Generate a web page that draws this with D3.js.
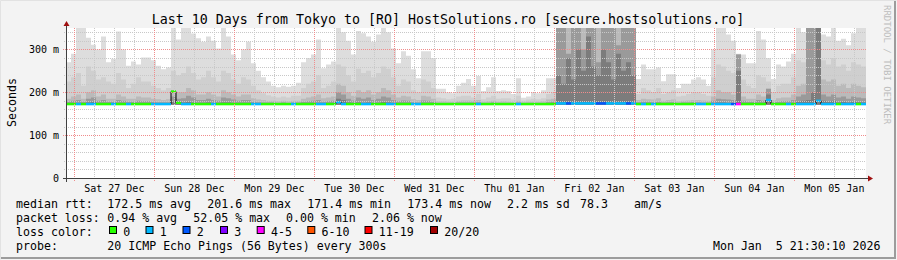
<!DOCTYPE html>
<html><head><meta charset="utf-8">
<script src="https://cdn.jsdelivr.net/npm/d3@7"></script>
<style>
html,body{margin:0;padding:0;background:#f3f3f3;}
svg{display:block;}
svg text{font-family:"DejaVu Sans Mono",monospace;}
</style></head><body>
<svg id="chart" width="897" height="260"></svg>
<script>
// ---- data ----
var endTime = Date.UTC(2026, 0, 5, 21, 30, 10);
var spanSec = 10 * 86400;
var stepSec = 5400; // one smoke column = 1.5 h

// top of each smoke band, ms (outermost band first)
var smokeMax = [
  270,290,350,350,327,311,300,330,270,278,342,300,262,272,265,281,
  281,275,262,254,258,350,323,350,350,337,326,318,330,320,302,350,
  330,288,275,300,318,268,250,235,225,215,212,215,213,215,222,270,
  280,288,323,256,265,272,350,340,320,288,343,338,330,318,335,350,
  340,302,268,296,285,254,233,296,296,280,208,208,200,198,215,222,
  231,215,238,203,212,235,203,205,203,196,233,187,190,200,198,205,
  233,233,360,360,360,360,360,360,360,360,360,360,360,360,360,360,
  360,360,231,265,254,254,258,226,242,242,210,220,220,230,235,230,
  215,300,350,350,335,320,290,288,268,268,343,323,280,231,265,260,
  272,290,350,340,350,350,350,335,330,350,320,325,310,338,350,350
];
var smokeL2 = [
  225,235,245,215,260,250,230,235,225,220,245,230,210,220,235,225,
  225,215,210,205,210,250,240,245,260,245,230,235,250,235,225,250,
  245,230,220,235,230,215,205,198,193,190,188,190,188,192,192,210,
  220,225,240,210,215,225,265,260,240,225,255,245,250,235,245,260,
  255,235,215,230,225,205,200,230,225,210,188,186,184,185,190,192,
  192,188,196,184,188,192,185,186,186,183,192,181,183,185,184,186,
  196,200,360,360,360,360,360,360,360,360,360,360,360,360,360,360,
  360,360,196,210,205,200,210,196,200,205,190,192,196,200,200,196,
  192,235,265,260,250,245,288,230,215,210,240,235,225,200,215,220,
  220,235,275,270,350,350,350,275,265,280,260,265,250,270,265,260
];
var smokeL3 = [
  185,190,195,185,200,205,190,195,185,185,195,190,185,185,190,188,
  188,185,184,182,184,205,200,200,210,205,195,195,200,195,190,205,
  200,195,190,195,195,186,183,182,180,180,179,180,179,180,180,185,
  188,190,195,186,188,190,220,215,200,192,205,200,205,195,200,210,
  205,195,188,192,190,184,182,192,190,185,179,179,178,178,180,181,
  181,180,182,178,179,180,178,179,178,177,180,177,178,178,178,179,
  183,185,360,360,360,360,360,360,360,360,360,360,360,360,360,360,
  360,360,182,185,184,183,186,180,182,183,179,180,181,182,182,181,
  180,190,205,200,200,195,288,190,185,185,195,190,208,182,186,188,
  188,195,215,220,350,350,350,230,225,230,215,220,210,220,215,212
];
var smokeL4 = [
  178,180,182,178,185,188,180,182,178,178,182,180,178,178,180,179,
  179,178,177,177,177,190,185,186,192,188,182,182,185,182,180,188,
  186,183,180,182,182,178,177,176,176,176,175,176,175,176,176,178,
  179,180,182,178,179,180,200,195,185,181,188,185,188,182,185,190,
  188,182,179,181,180,177,176,181,180,178,175,175,175,175,176,176,
  176,176,177,175,175,176,175,175,175,175,176,175,175,175,175,175,
  177,178,360,360,290,360,360,300,360,360,270,360,360,360,310,360,
  360,360,177,178,178,177,178,176,177,177,175,176,176,177,177,176,
  176,180,185,184,183,182,288,180,178,178,182,180,208,177,178,179,
  179,182,190,195,350,350,350,195,190,195,188,190,185,190,188,186
];
var smokeL5 = [
  174,174,175,174,176,178,175,175,174,174,175,174,174,174,175,174,
  174,174,174,174,174,178,176,176,178,176,175,175,176,175,174,176,
  176,175,174,175,175,174,174,174,174,174,174,174,174,174,174,174,
  174,174,175,174,174,174,185,182,176,174,176,175,176,175,175,177,
  176,175,174,174,174,174,174,174,174,174,174,174,174,174,174,174,
  174,174,174,174,174,174,174,174,174,174,174,174,174,174,174,174,
  174,174,240,220,280,230,300,250,330,260,240,300,270,230,290,250,
  270,240,174,174,174,174,174,174,174,174,174,174,174,174,174,174,
  174,174,176,176,175,175,250,174,174,174,175,174,195,174,174,174,
  174,175,178,180,182,200,350,180,178,180,176,178,176,178,177,176
];
var median = [
  172.5,172.5,172.5,172.5,172.5,172.5,172.5,172.5,172.5,172.5,172.5,172.5,172.5,172.5,172.5,172.5,
  172.5,172.5,172.5,172.5,172.5,201.6,175.5,172.5,172.5,172.5,172.5,172.5,172.5,172.5,172.5,172.5,
  172.5,172.5,172.5,172.5,172.5,172.5,172.5,172.5,172.5,172.5,172.5,172.5,172.5,172.5,172.5,172.5,
  172.5,172.5,172.5,172.5,172.5,172.5,177.0,172.5,172.5,172.5,172.5,172.5,172.5,172.5,172.5,172.5,
  172.5,172.5,172.5,172.5,172.5,172.5,172.5,172.5,172.5,172.5,172.5,172.5,172.5,172.5,172.5,172.5,
  172.5,172.5,172.5,172.5,172.5,172.5,172.5,172.5,172.5,172.5,172.5,172.5,172.5,172.5,172.5,172.5,
  172.5,172.5,174.0,174.0,174.0,174.0,174.0,174.0,174.0,174.0,174.0,174.0,174.0,174.0,174.0,174.0,
  174.0,174.0,172.5,172.5,172.5,172.5,172.5,172.5,172.5,172.5,172.5,172.5,172.5,172.5,172.5,172.5,
  172.5,172.5,172.5,172.5,172.5,172.5,172.5,172.5,172.5,172.5,172.5,172.5,182.0,172.5,172.5,172.5,
  172.5,172.5,172.5,172.5,172.5,172.5,180.0,172.5,172.5,172.5,172.5,172.5,172.5,172.5,172.5,172.5
];
// lost pings out of 20 per column
var loss = [
  0,0,1,0,1,1,0,0,0,1,0,0,1,0,0,0,
  0,1,1,1,1,0,0,1,1,0,0,0,0,1,0,0,
  0,0,0,0,0,1,1,0,0,0,0,0,0,1,0,0,
  0,0,1,1,0,0,1,1,0,0,0,1,1,0,0,0,
  1,1,0,0,0,1,1,0,0,0,0,0,0,0,0,0,
  0,0,1,0,0,0,0,0,0,0,1,0,0,0,0,0,
  0,0,1,1,2,1,1,1,1,1,2,2,1,1,1,1,
  2,1,0,1,0,1,0,0,0,0,0,0,0,0,1,1,
  0,1,1,1,1,2,5,0,0,0,0,0,1,0,0,0,
  1,0,1,1,1,1,1,1,1,1,0,1,1,1,0,1
];
var lossLabels = ["0", "1", "2", "3", "4-5", "6-10", "11-19", "20/20"];
var lossColors = ["#26ff00", "#00b8ff", "#0059ff", "#7e00ff", "#ff00ff", "#ff5500", "#ff0000", "#a00000"];
var yTicks = [0, 100, 200, 300];
var yTickLabels = ["0", "100 m", "200 m", "300 m"];

// ---- layout ----
var W = 897, H = 260;
var plot = {left: 66, right: 866, top: 28, bottom: 178};
var smokeFloor = 171;
var smokeColors = ["#dddddd", "#cfcfcf", "#bababa", "#9a9a9a", "#7c7c7c"];
var fontBig = "11.6px", fontSmall = "10px";

var svg = d3.select("#chart");

// frame
svg.append("rect").attr("width", W).attr("height", H).attr("fill", "#f3f3f3");
svg.append("path").attr("d", "M0.5,259.5V0.5H896.5").attr("stroke", "#e2e2e2").attr("fill", "none");
svg.append("path").attr("d", "M1,258H895V1").attr("stroke", "#9c9c9c").attr("stroke-width", 2).attr("fill", "none");

var startTime = endTime - spanSec * 1000;
var x = d3.scaleUtc().domain([startTime, endTime]).range([plot.left, plot.right]);
var y = d3.scaleLinear().domain([0, 350]).range([plot.bottom, plot.top]);

svg.append("rect").attr("x", plot.left).attr("y", plot.top)
  .attr("width", plot.right - plot.left).attr("height", plot.bottom - plot.top).attr("fill", "#fff");

svg.append("clipPath").attr("id", "clip").append("rect")
  .attr("x", plot.left).attr("y", plot.top)
  .attr("width", plot.right - plot.left).attr("height", plot.bottom - plot.top);

var cols = smokeMax.map(function(d, i){ return startTime + i * stepSec * 1000; });
var g = svg.append("g").attr("clip-path", "url(#clip)");

// smoke bands
[smokeMax, smokeL2, smokeL3, smokeL4, smokeL5].forEach(function(band, k){
  var pts = cols.map(function(t, i){ return {t: t, v: band[i]}; });
  pts.push({t: endTime, v: band[band.length - 1]});
  g.append("path").datum(pts)
    .attr("fill", smokeColors[k])
    .attr("d", d3.area().curve(d3.curveStepAfter)
      .x(function(d){ return x(d.t); })
      .y0(y(smokeFloor))
      .y1(function(d){ return y(d.v); }));
});

// median: black step line, then loss-coloured segments
var medPts = cols.map(function(t, i){ return {t: t, v: median[i]}; });
medPts.push({t: endTime, v: median[median.length - 1]});
g.append("path").datum(medPts)
  .attr("fill", "none").attr("stroke", "#000").attr("stroke-width", 1)
  .attr("d", d3.line().curve(d3.curveStepAfter)
    .x(function(d){ return x(d.t); }).y(function(d){ return y(d.v); }));

function lossBin(n){
  if (n <= 3) return n;
  if (n <= 5) return 4;
  if (n <= 10) return 5;
  if (n <= 19) return 6;
  return 7;
}
g.selectAll("rect.med").data(cols).enter().append("rect")
  .attr("x", function(t){ return x(t); })
  .attr("width", function(t, i){ return x(i + 1 < cols.length ? cols[i + 1] : endTime) - x(t); })
  .attr("y", function(t, i){ return y(median[i]) - 1.25; })
  .attr("height", 2.5)
  .attr("fill", function(t, i){ return lossColors[lossBin(loss[i])]; });

// grid (drawn over the smoke)
var grid = svg.append("g");
var minorY = d3.range(20, 351, 20).filter(function(v){ return v % 100 !== 0; });
grid.selectAll("line.ymin").data(minorY).enter().append("line")
  .attr("x1", plot.left - 2).attr("x2", plot.right)
  .attr("y1", function(d){ return Math.round(y(d)) + 0.5; })
  .attr("y2", function(d){ return Math.round(y(d)) + 0.5; })
  .attr("stroke", "#c8c8c8").attr("stroke-dasharray", "1,1");
var minorX = d3.utcHour.every(6).range(new Date(startTime), new Date(endTime))
  .filter(function(d){ return d.getUTCHours() !== 0; });
grid.selectAll("line.xmin").data(minorX).enter().append("line")
  .attr("x1", function(d){ return Math.round(x(d)) + 0.5; })
  .attr("x2", function(d){ return Math.round(x(d)) + 0.5; })
  .attr("y1", plot.top).attr("y2", plot.bottom)
  .attr("stroke", "#c8c8c8").attr("stroke-dasharray", "1,1");
var days = d3.utcDay.range(new Date(startTime), new Date(endTime));
grid.selectAll("line.xmaj").data(days).enter().append("line")
  .attr("x1", function(d){ return Math.round(x(d)) + 0.5; })
  .attr("x2", function(d){ return Math.round(x(d)) + 0.5; })
  .attr("y1", plot.top).attr("y2", plot.bottom + 3)
  .attr("stroke", "#f08c8c").attr("stroke-dasharray", "1,1");
grid.selectAll("line.ymaj").data(yTicks.slice(1)).enter().append("line")
  .attr("x1", plot.left - 3).attr("x2", plot.right)
  .attr("y1", function(d){ return Math.round(y(d)) + 0.5; })
  .attr("y2", function(d){ return Math.round(y(d)) + 0.5; })
  .attr("stroke", "#f08c8c").attr("stroke-dasharray", "1,1");

// axes
var axisCol = "#404040", arrowCol = "#a01010";
svg.append("line").attr("x1", plot.left - 3).attr("x2", plot.right + 3)
  .attr("y1", plot.bottom + 0.5).attr("y2", plot.bottom + 0.5).attr("stroke", axisCol);
svg.append("line").attr("x1", plot.left + 0.5).attr("x2", plot.left + 0.5)
  .attr("y1", plot.bottom + 4).attr("y2", plot.top - 3).attr("stroke", axisCol);
svg.append("path").attr("fill", arrowCol)
  .attr("d", "M" + (plot.right + 2) + "," + (plot.bottom - 2.5) + "l5,3l-5,3z");
svg.append("path").attr("fill", arrowCol)
  .attr("d", "M" + (plot.left - 2.5) + "," + (plot.top - 2) + "l3,-5l3,5z");

// y labels
svg.selectAll("text.yl").data(yTicks).enter().append("text")
  .attr("x", 59).attr("y", function(d){ return y(d) + 3.5; })
  .attr("text-anchor", "end").attr("font-size", fontSmall).attr("fill", "#000")
  .text(function(d, i){ return yTickLabels[i]; });
// x labels at noon
var fmt = d3.utcFormat("%a %d %b");
svg.selectAll("text.xl").data(days).enter().append("text")
  .attr("x", function(d){ return x(d3.utcHour.offset(d, 12)); }).attr("y", 191.5)
  .attr("text-anchor", "middle").attr("font-size", fontSmall).attr("fill", "#000")
  .text(fmt);

// titles
svg.append("text").attr("x", 448).attr("y", 24).attr("text-anchor", "middle")
  .attr("font-size", "13.3px").text("Last 10 Days from Tokyo to [RO] HostSolutions.ro [secure.hostsolutions.ro]");
svg.append("text").attr("transform", "translate(15.5,102.5) rotate(-90)")
  .attr("text-anchor", "middle").attr("font-size", fontBig).text("Seconds");
svg.append("text").attr("transform", "translate(883.5,5) rotate(90)")
  .attr("font-size", "9px").attr("fill", "#bdbdbd").text("RRDTOOL / TOBI OETIKER");

// legend
function legendText(xp, yp, s){
  svg.append("text").attr("x", xp).attr("y", yp).attr("font-size", fontBig)
    .style("white-space", "pre").text(s);
}
legendText(16, 208, "median rtt:");
legendText(107.3, 208, "172.5 ms avg");
legendText(207.3, 208, "201.6 ms max");
legendText(307.3, 208, "171.4 ms min");
legendText(407.3, 208, "173.4 ms now");
legendText(507, 208, "2.2 ms sd");
legendText(580, 208, "78.3");
legendText(634, 208, "am/s");
legendText(16, 222, "packet loss:");
legendText(107.3, 222, "0.94 % avg");
legendText(193.3, 222, "52.05 % max");
legendText(286, 222, "0.00 % min");
legendText(372, 222, "2.06 % now");
legendText(16, 236, "loss color:");
var boxX = [109, 145.5, 182.5, 220, 256.7, 307.3, 364.5, 430];
lossLabels.forEach(function(lbl, i){
  svg.append("rect").attr("x", boxX[i] + 0.5).attr("y", 226.5).attr("width", 7).attr("height", 7)
    .attr("fill", lossColors[i]).attr("stroke", "#000");
  legendText(boxX[i] + 14.3, 236, lbl);
});
legendText(16, 250, "probe:");
legendText(107.3, 250, "20 ICMP Echo Pings (56 Bytes) every 300s");
svg.append("text").attr("x", 880.5).attr("y", 250).attr("text-anchor", "end")
  .attr("font-size", fontBig).style("white-space", "pre").text("Mon Jan  5 21:30:10 2026");
</script>
</body></html>
